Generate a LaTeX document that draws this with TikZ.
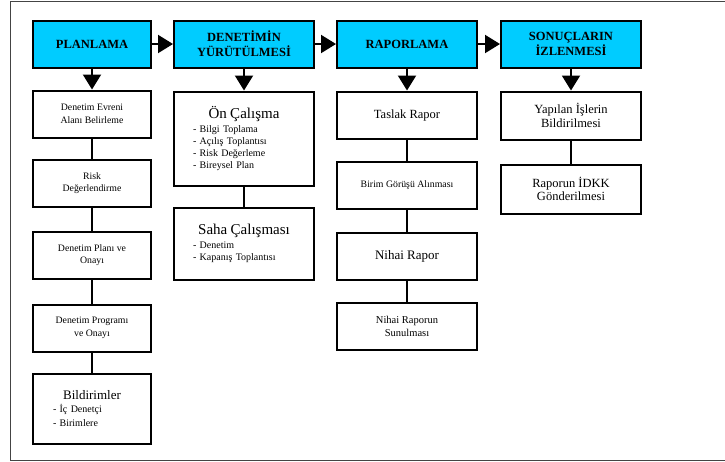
\documentclass[tikz,border=0pt]{standalone}
\usepackage{fontspec}
\setmainfont{Liberation Serif}
\usetikzlibrary{positioning, arrows.meta}
\definecolor{cHead}{HTML}{00CCFF}
\definecolor{cInk}{HTML}{000000}
\definecolor{cFrame}{HTML}{444444}

\begin{document}
\begin{tikzpicture}[x=1pt,y=1pt,
  head/.style={draw=cInk,line width=2pt,fill=cHead,align=center,minimum width=140pt,minimum height=47pt,inner sep=2pt,font=\fontsize{12.5}{15}\selectfont\bfseries},
  box/.style={draw=cInk,line width=2pt,fill=white,align=center,minimum width=140pt,minimum height=47pt,inner sep=2pt},
  narrow/.style={minimum width=118pt},
  lst/.style={box,text width=140pt,inner xsep=0pt,align=left},
  sm/.style={font=\fontsize{9.8}{12.5}\selectfont},
  md/.style={font=\fontsize{12.5}{13.5}\selectfont},
  arr/.style={-{Triangle[length=15pt,width=18pt]},line width=2pt,draw=cInk},
  conn/.style={line width=2pt,draw=cInk},
  frame/.style={draw=cFrame,line width=1pt}]
  \useasboundingbox (0,0) rectangle (725,-461);
  \draw[frame] (730,-1) -- (10,-1) -- (10,-460) -- (730,-460);
  % header row
  \node[head, narrow] (plan) at (92,-44) {PLANLAMA};
  \node[head, right=21pt of plan] (yur) {DENETİMİN\\YÜRÜTÜLMESİ};
  \node[head, right=21pt of yur] (rap) {RAPORLAMA};
  \node[head, right=22pt of rap] (son) {SONUÇLARIN\\İZLENMESİ};
  % planlama
  \node[box, narrow, sm, below=21pt of plan] (evr) {Denetim Evreni\\Alanı Belirleme};
  \node[box, narrow, sm, below=20pt of evr] (risk) {Risk\\Değerlendirme};
  \node[box, narrow, sm, below=23pt of risk] (plani) {Denetim Planı ve\\Onayı};
  \node[box, narrow, sm, below=24pt of plani] (prog) {Denetim Programı\\ve Onayı};
  \node[lst, narrow, text width=118pt, minimum height=70pt, below=20pt of prog, font=\fontsize{10}{14}\selectfont] (bild) {\makebox[\linewidth]{\fontsize{13}{14}\selectfont Bildirimler}\\[-1pt]
    \hspace*{20pt}- İç Denetçi\\
    \hspace*{20pt}- Birimlere};
  % yurutme
  \node[lst, minimum height=94pt, below=22pt of yur, font=\fontsize{10}{12}\selectfont] (on) {\makebox[\linewidth]{\fontsize{15}{16}\selectfont Ön Çalışma}\\[2pt]
    \hspace*{19pt}- Bilgi Toplama\\
    \hspace*{19pt}- Açılış Toplantısı\\
    \hspace*{19pt}- Risk Değerleme\\
    \hspace*{19pt}- Bireysel Plan};
  \node[lst, minimum height=72pt, below=20pt of on, font=\fontsize{10}{12.5}\selectfont] (saha) {\makebox[\linewidth]{\fontsize{15}{16}\selectfont Saha Çalışması}\\[1pt]
    \hspace*{19pt}- Denetim\\
    \hspace*{19pt}- Kapanış Toplantısı};
  % raporlama
  \node[box, md, below=22pt of rap] (tas) {Taslak Rapor};
  \node[box, sm, below=21pt of tas] (birim) {Birim Görüşü Alınması};
  \node[box, font=\fontsize{13}{14}\selectfont, below=22pt of birim] (nih) {Nihai Rapor};
  \node[box, font=\fontsize{10.5}{13}\selectfont, below=21pt of nih] (sun) {Nihai Raporun\\Sunulması};
  % sonuclar
  \node[box, md, minimum height=48pt, below=22pt of son] (yap) {Yapılan İşlerin\\Bildirilmesi};
  \node[box, md, minimum height=49pt, below=23pt of yap] (idkk) {Raporun İDKK\\Gönderilmesi};
  \draw[arr] (plan) -- (yur); \draw[arr] (yur) -- (rap); \draw[arr] (rap) -- (son);
  \draw[arr] (plan) -- (evr); \draw[arr] (yur) -- (on); \draw[arr] (rap) -- (tas); \draw[arr] (son) -- (yap);
  \draw[conn] (evr) -- (risk); \draw[conn] (risk) -- (plani); \draw[conn] (plani) -- (prog); \draw[conn] (prog) -- (bild);
  \draw[conn] (on) -- (saha);
  \draw[conn] (tas) -- (birim); \draw[conn] (birim) -- (nih); \draw[conn] (nih) -- (sun);
  \draw[conn] (yap) -- (idkk);
\end{tikzpicture}
\end{document}
